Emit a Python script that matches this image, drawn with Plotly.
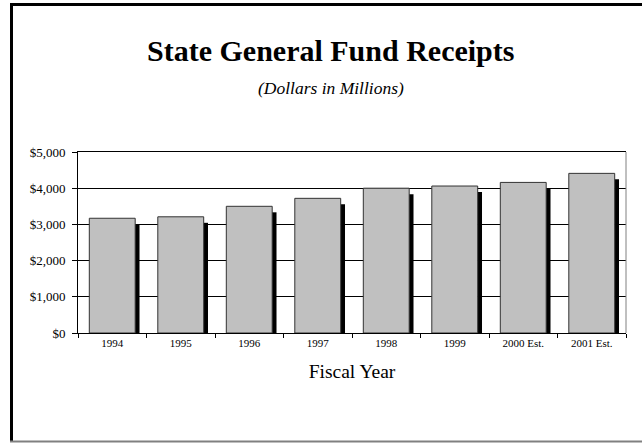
import plotly.graph_objects as go

# Data
years = ["1994", "1995", "1996", "1997", "1998", "1999", "2000 Est.", "2001 Est."]
receipts = [3170, 3210, 3500, 3720, 4000, 4060, 4160, 4410]
y_ticks = [0, 1000, 2000, 3000, 4000, 5000]
y_tick_labels = ["$" + format(v, ",") for v in y_ticks]

# Layout geometry (pixels)
W, H = 642, 443
L, R, T, B = 78, 16, 152, 110
pw, ph = W - L - R, H - T - B

def px_x(p):
    return (p - L) / pw

def px_y(p):
    return (H - B - p) / ph

SERIF = "Liberation Serif, Times New Roman, serif"
shadow_drop = 166  # visual shadow offset in data units (style)

fig = go.Figure()
# shadow bars (drawn first)
fig.add_trace(go.Bar(
    x=years, y=receipts, base=[-shadow_drop] * len(years),
    width=0.068, offset=0.33,
    marker=dict(color="#000000", line=dict(width=0)),
    hoverinfo="skip", showlegend=False,
))
# main bars
fig.add_trace(go.Bar(
    x=years, y=receipts,
    width=0.67, offset=-0.335,
    marker=dict(color="#c0c0c0", line=dict(color="#333333", width=1)),
    showlegend=False,
))

fig.update_layout(
    width=W, height=H,
    margin=dict(l=L, r=R, t=T, b=B, autoexpand=False),
    paper_bgcolor="white", plot_bgcolor="white",
    barmode="overlay",
    font=dict(family=SERIF, color="black"),
    showlegend=False,
    xaxis=dict(
        type="category",
        showline=True, linecolor="black", linewidth=1, mirror=True,
        ticks="outside", ticklen=4, tickcolor="black", tickwidth=1,
        tickson="boundaries",
        tickfont=dict(size=11, family=SERIF),
        showgrid=False, zeroline=False,
        title=dict(text="Fiscal Year", font=dict(size=19.5, family=SERIF), standoff=16),
        fixedrange=True,
    ),
    yaxis=dict(
        range=[0, 5000],
        tickvals=y_ticks, ticktext=y_tick_labels,
        showline=True, linecolor="black", linewidth=1,
        ticks="outside", ticklen=5, tickcolor="black",
        ticklabelstandoff=4,
        tickfont=dict(size=13, family=SERIF),
        showgrid=True, gridcolor="black", gridwidth=1,
        zeroline=False,
        fixedrange=True,
    ),
    annotations=[
        dict(text="<b>State General Fund Receipts</b>", xref="paper", yref="paper",
             x=px_x(330), y=px_y(50), xanchor="center", yanchor="middle",
             showarrow=False, font=dict(size=30, family=SERIF)),
        dict(text="<i>(Dollars in Millions)</i>", xref="paper", yref="paper",
             x=px_x(331), y=px_y(88), xanchor="center", yanchor="middle",
             showarrow=False, font=dict(size=17.5, family=SERIF)),
    ],
    shapes=[
        # right border of plot area (gray)
        dict(type="line", xref="paper", yref="paper", x0=1, x1=1, y0=0, y1=1,
             line=dict(color="#808080", width=1)),
        # outer frame: left and top black, bottom gray
        dict(type="line", xref="paper", yref="paper",
             x0=px_x(11.5), x1=px_x(11.5), y0=px_y(442), y1=px_y(3),
             line=dict(color="black", width=3)),
        dict(type="line", xref="paper", yref="paper",
             x0=px_x(10), x1=px_x(650), y0=px_y(4.5), y1=px_y(4.5),
             line=dict(color="black", width=3)),
        dict(type="line", xref="paper", yref="paper",
             x0=px_x(10), x1=px_x(650), y0=px_y(441.5), y1=px_y(441.5),
             line=dict(color="#808080", width=2)),
    ],
)

fig.write_html("out.html", config={"displayModeBar": False},
               post_script="document.body.style.margin='0';document.body.style.overflow='hidden';")
